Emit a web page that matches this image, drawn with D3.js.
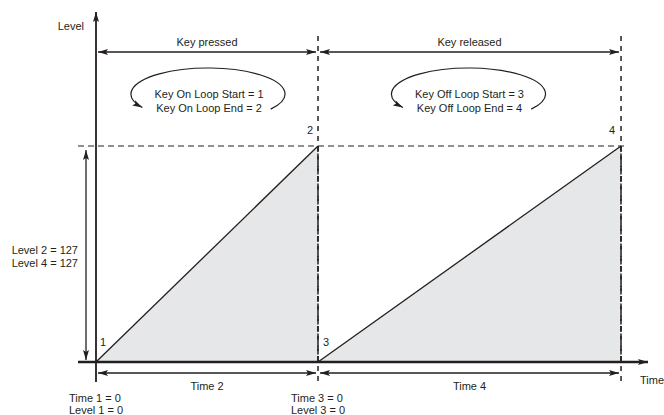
<!DOCTYPE html>
<html><head><meta charset="utf-8">
<script src="https://cdn.jsdelivr.net/npm/d3@7"></script>
<style>body{margin:0;background:#fff}svg{display:block}text{font-family:"Liberation Sans",Arial,sans-serif;font-size:11px;fill:#231f20}</style>
</head><body><div id="chart"></div>
<script>
// Envelope points
const pointIds = [1, 2, 3, 4];
const pointTimes = [0, 100, 100, 236.5];
const pointLevels = [0, 127, 0, 127];
const segmentLabels = ["Key pressed", "Key released"];
const durationLabels = ["Time 2", "Time 4"];
const loopLabels = [["Key On Loop Start = 1", "Key On Loop End = 2"], ["Key Off Loop Start = 3", "Key Off Loop End = 4"]];
const startLabels = [["Time 1 = 0", "Level 1 = 0"], ["Time 3 = 0", "Level 3 = 0"]];
const levelLabels = ["Level 2 = 127", "Level 4 = 127"];

const W = 664, H = 415;
const svg = d3.select("#chart").append("svg").attr("width", W).attr("height", H);
const x = d3.scaleLinear().domain([0, 100]).range([96, 318]);
const y = d3.scaleLinear().domain([0, 127]).range([362, 146]);
const ink = "#231f20";

const defs = svg.append("defs");
function marker(id) {
  defs.append("marker").attr("id", id).attr("viewBox", "0 0 10 6").attr("refX", 10).attr("refY", 3)
    .attr("markerWidth", 10).attr("markerHeight", 6).attr("markerUnits", "userSpaceOnUse").attr("orient", "auto-start-reverse")
    .append("path").attr("d", "M0,0 L10,3 L0,6 L2,3 Z").attr("fill", ink);
}
marker("arr");

const pts = pointIds.map((id, i) => ({id, t: pointTimes[i], l: pointLevels[i]}));
const seg1 = [pts[0], pts[1]], seg2 = [pts[2], pts[3]];

// fills
const area = d3.area().x(d => x(d.t)).y0(y(0)).y1(d => y(d.l));
[seg1, seg2].forEach(s => svg.append("path").attr("d", area(s)).attr("fill", "#e6e7e8"));

// dashed level line
svg.append("line").attr("x1", 78).attr("x2", 628).attr("y1", y(127)).attr("y2", y(127))
  .attr("stroke", ink).attr("stroke-width", 1.2).attr("stroke-dasharray", "6,4");

// vertical dashed lines at point 2/3 and 4
[pts[1].t, pts[3].t].forEach(t => {
  svg.append("line").attr("x1", x(t)).attr("x2", x(t)).attr("y1", 36).attr("y2", 386)
    .attr("stroke", ink).attr("stroke-width", 1.5).attr("stroke-dasharray", "5,5");
  svg.append("line").attr("x1", x(t)).attr("x2", x(t)).attr("y1", y(127)).attr("y2", y(0))
    .attr("stroke", ink).attr("stroke-width", 1.5).attr("stroke-dasharray", "6,1.5");
});

// envelope lines
const line = d3.line().x(d => x(d.t)).y(d => y(d.l));
[seg1, seg2].forEach(s => svg.append("path").attr("d", line(s)).attr("fill", "none").attr("stroke", ink).attr("stroke-width", 1.3));

// axes
svg.append("line").attr("x1", x(0)).attr("x2", x(0)).attr("y1", 382).attr("y2", 12)
  .attr("stroke", ink).attr("stroke-width", 1.8).attr("marker-end", "url(#arr)");
svg.append("line").attr("x1", 78).attr("x2", 648).attr("y1", y(0)).attr("y2", y(0))
  .attr("stroke", ink).attr("stroke-width", 2.4).attr("marker-end", "url(#arr)");
svg.append("text").attr("x", 84).attr("y", 30).attr("text-anchor", "end").text("Level");
svg.append("text").attr("x", 640).attr("y", 384).text("Time");

// double arrows
function dbl(x1, y1, x2, y2) {
  svg.append("line").attr("x1", x1).attr("y1", y1).attr("x2", x2).attr("y2", y2)
    .attr("stroke", ink).attr("stroke-width", 1.3).attr("marker-start", "url(#arr)").attr("marker-end", "url(#arr)");
}
const spans = [[pts[0].t, pts[1].t], [pts[2].t, pts[3].t]];
spans.forEach((s, i) => {
  dbl(x(s[0]) + 2, 52, x(s[1]) - 2, 52);
  svg.append("text").attr("x", (x(s[0]) + x(s[1])) / 2).attr("y", 46).attr("text-anchor", "middle").text(segmentLabels[i]);
  dbl(x(s[0]) + 2, 373, x(s[1]) - 2, 373);
  svg.append("text").attr("x", (x(s[0]) + x(s[1])) / 2).attr("y", 390).attr("text-anchor", "middle").text(durationLabels[i]);
  // loop ellipses
  const cx = (x(s[0]) + x(s[1])) / 2 + (i === 0 ? 1 : -1), cy = 94, rx = 77, ry = 26;
  const a0 = 0.62, a1 = Math.PI - 0.55; // angles measured below horizontal
  const p = (ang) => [cx + rx * Math.cos(ang), cy + ry * Math.sin(ang)];
  const [sx, sy] = p(a0), [ex, ey] = p(a1);
  svg.append("path").attr("d", `M${sx},${sy} A${rx},${ry} 0 1 0 ${ex},${ey}`)
    .attr("fill", "none").attr("stroke", ink).attr("stroke-width", 1.2).attr("marker-end", "url(#arr)");
  svg.append("text").attr("x", cx + 1).attr("y", 98).attr("text-anchor", "middle").text(loopLabels[i][0]);
  svg.append("text").attr("x", cx + 1).attr("y", 112).attr("text-anchor", "middle").text(loopLabels[i][1]);
  // start labels
  svg.append("text").attr("x", x(s[0]) - 27).attr("y", 402).text(startLabels[i][0]);
  svg.append("text").attr("x", x(s[0]) - 27).attr("y", 414).text(startLabels[i][1]);
});

// level double arrow
dbl(86, y(127) + 4, 86, y(0) - 2);
levelLabels.forEach((t, i) => svg.append("text").attr("x", 78).attr("y", 254 + i * 13).attr("text-anchor", "end").text(t));

// point numbers
const off = {1: [7, -20], 2: [-8, -16], 3: [8, -20], 4: [-9, -16]};
pts.forEach(d => svg.append("text").attr("x", x(d.t) + off[d.id][0]).attr("y", y(d.l) + off[d.id][1] + 4)
  .attr("text-anchor", "middle").text(d.id));
</script></body></html>
